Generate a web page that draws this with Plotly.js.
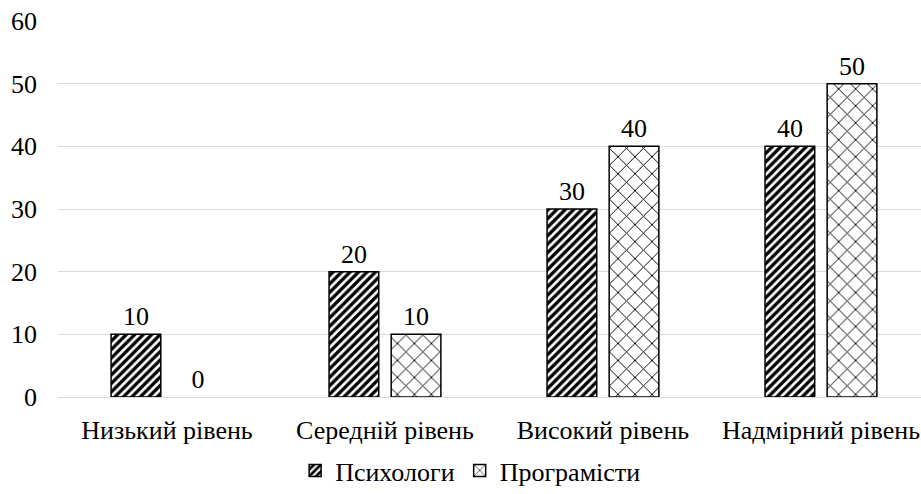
<!DOCTYPE html>
<html>
<head>
<meta charset="utf-8">
<script src="https://cdn.plot.ly/plotly-3.0.1.min.js"></script>
<style>html,body{margin:0;padding:0;background:#fff;}#chart{width:921px;height:494px;}</style>
</head>
<body>
<div id="chart"></div>
<script>
const categories = ["Низький рівень", "Середній рівень", "Високий рівень", "Надмірний рівень"];
const seriesNames = ["Психологи", "Програмісти"];
const psychologists = [10, 20, 30, 40];
const programmers = [0, 10, 40, 50];
const yTicks = [0, 10, 20, 30, 40, 50, 60];

const FONT = "Liberation Serif, serif";
const FS = 26;

// reversed order so the legend swatch takes a non-empty bar's outline;
// category order on the axis is fixed by categoryarray below
const rev = a => a.slice().reverse();
const lineWidths = vals => vals.map(v => (v === 0 ? 0 : 1.5));

const traces = [
  {
    type: "bar", name: seriesNames[0], x: rev(categories), y: rev(psychologists),
    text: rev(psychologists).map(String), textposition: "outside", cliponaxis: false,
    textfont: {family: FONT, size: FS, color: "#000"},
    marker: {color: "#fff", line: {color: "#000", width: lineWidths(rev(psychologists))},
      pattern: {shape: "/", fgcolor: "#000", bgcolor: "#fff", size: 6, solidity: 0.55}}
  },
  {
    type: "bar", name: seriesNames[1], x: rev(categories), y: rev(programmers),
    text: rev(programmers).map(String), textposition: "outside", cliponaxis: false,
    textfont: {family: FONT, size: FS, color: "#000"},
    marker: {color: "#fff", line: {color: "#000", width: lineWidths(rev(programmers))},
      pattern: {shape: "x", fgcolor: "#000", bgcolor: "#fff", size: 12, solidity: 0.15}}
  }
];

const layout = {
  width: 921, height: 494,
  margin: {l: 58, r: 0, t: 21, b: 97},
  paper_bgcolor: "#fff", plot_bgcolor: "#fff",
  font: {family: FONT, size: FS, color: "#000"},
  barmode: "group", bargap: 0.43, bargroupgap: 0.2,
  showlegend: true,
  legend: {orientation: "h", xref: "container", yref: "container", x: 0.511, xanchor: "center",
    y: 0, yanchor: "bottom",
    font: {family: FONT, size: FS, color: "#000"}, itemwidth: 30, traceorder: "normal"},
  xaxis: {range: [-0.5, 3.459], categoryorder: "array", categoryarray: categories,
    showgrid: false, showline: false, ticks: "", zeroline: false, automargin: false,
    tickfont: {family: FONT, size: FS, color: "#000"}, ticklabelstandoff: 15},
  yaxis: {range: [0, 60], tickvals: yTicks, showgrid: true, gridcolor: "#d9d9d9", gridwidth: 1,
    automargin: false,
    zeroline: true, zerolinecolor: "#d9d9d9", zerolinewidth: 1, showline: false, ticks: "",
    tickfont: {family: FONT, size: FS, color: "#000"}, ticklabelstandoff: 20}
};

Plotly.newPlot("chart", traces, layout, {displayModeBar: false, staticPlot: true});
</script>
</body>
</html>
